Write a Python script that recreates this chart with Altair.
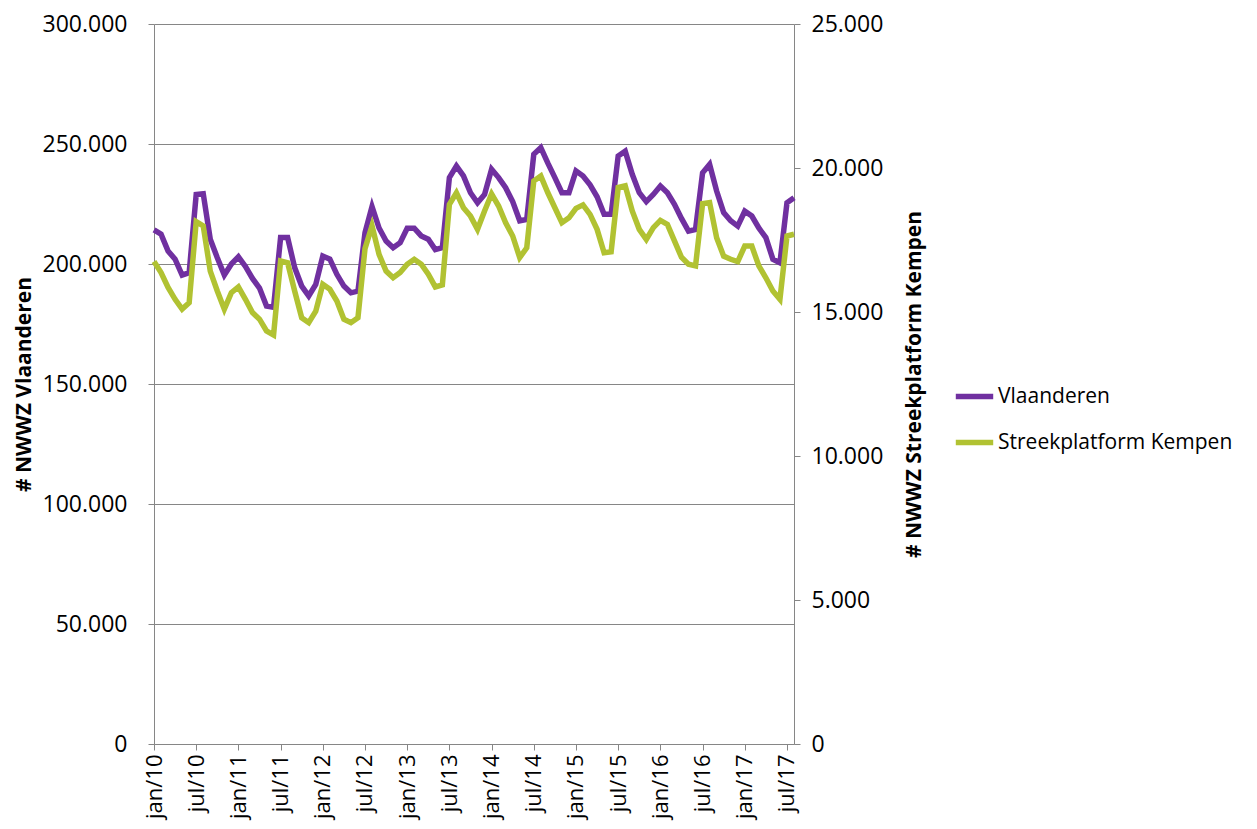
import altair as alt
import pandas as pd

# Monthly values, Jan 2010 .. Aug 2017
vlaanderen = [214200, 212400, 205400, 202000, 195400, 196400, 229000, 229300, 210300, 202600,
              195400, 200000, 203000, 199000, 194000, 190000, 182500, 182000, 211000, 211000,
              198500, 190800, 186700, 191500, 203300, 202000, 195700, 190800, 188000, 188700,
              213000, 223900, 215000, 209600, 206800, 208900, 214900, 214900, 211700, 210300,
              206000, 206800, 236000, 240800, 236700, 229700, 225500, 229000, 239500, 236000,
              231800, 226000, 218000, 218600, 245700, 248500, 242000, 236000, 229700, 229700,
              238800, 236700, 233000, 228000, 220700, 220700, 245000, 247000, 237400, 229700,
              226000, 229000, 232500, 229700, 224900, 219000, 213700, 214400, 238000, 241500,
              230400, 221400, 218000, 215800, 222000, 220000, 215000, 211000, 202000, 200500,
              225500, 227600]
kempen = [16750, 16370, 15850, 15440, 15100, 15320, 18140, 17990, 16420, 15730,
          15100, 15670, 15870, 15440, 14980, 14750, 14340, 14200, 16770, 16710,
          15730, 14800, 14630, 15030, 15960, 15790, 15380, 14750, 14630, 14800,
          17200, 17990, 17000, 16420, 16190, 16370, 16660, 16830, 16660, 16310,
          15870, 15940, 18740, 19140, 18620, 18330, 17870, 18510, 19100, 18680,
          18100, 17640, 16890, 17230, 19550, 19720, 19140, 18620, 18100, 18270,
          18600, 18720, 18390, 17870, 17060, 17090, 19320, 19380, 18510, 17870,
          17520, 17930, 18180, 18040, 17470, 16900, 16660, 16600, 18760, 18800,
          17580, 16940, 16830, 16750, 17290, 17290, 16600, 16190, 15730, 15440,
          17640, 17700]
tick_labels = ["jan/10", "jul/10", "jan/11", "jul/11", "jan/12", "jul/12", "jan/13", "jul/13",
               "jan/14", "jul/14", "jan/15", "jul/15", "jan/16", "jul/16", "jan/17", "jul/17"]
series_names = ["Vlaanderen", "Streekplatform Kempen"]
series_colors = ["#7030A0", "#B1C232"]

FONT = "Open Sans"
df = pd.DataFrame({"m": list(range(len(vlaanderen))), "vl": vlaanderen, "ke": kempen})

label_list = "[" + ",".join("'%s'" % t for t in tick_labels) + "]"
xenc = alt.X("m:Q",
             scale=alt.Scale(domain=[0, len(vlaanderen) - 1], nice=False, zero=False),
             axis=alt.Axis(values=list(range(0, 6 * len(tick_labels), 6)),
                           labelExpr=label_list + "[round(datum.value/6)]",
                           labelAngle=270, labelAlign="right", labelBaseline="middle",
                           labelFontSize=22, labelFont=FONT, labelColor="#000",
                           labelPadding=4, tickSize=6, tickColor="#868686",
                           domainColor="#868686", grid=False, title=None))

color_enc = alt.Color("s:N",
                      scale=alt.Scale(domain=series_names, range=series_colors),
                      legend=alt.Legend(orient="none", legendX=799, legendY=351, title=None,
                                        symbolType="stroke", symbolSize=1400,
                                        symbolStrokeWidth=5.5,
                                        labelFontSize=21, labelFont=FONT, labelColor="#000",
                                        rowPadding=13, labelOffset=2, labelLimit=400))

fmt = "replace(format(datum.value, ','), ',', '.')"

left = alt.Chart(df).transform_calculate(s="'%s'" % series_names[0]).mark_line(
    strokeWidth=5.5).encode(
    x=xenc,
    y=alt.Y("vl:Q", scale=alt.Scale(domain=[0, 300000], nice=False),
            axis=alt.Axis(values=list(range(0, 300001, 50000)), labelExpr=fmt,
                          title="# NWWZ Vlaanderen", titleFontSize=21, titleFont=FONT,
                          titleFontWeight="bold", titleColor="#000",
                          labelFontSize=23, labelFont=FONT, labelColor="#000",
                          labelPadding=21, tickSize=6, tickColor="#868686",
                          domainColor="#868686", gridColor="#868686", grid=True,
                          titlePadding=8)),
    color=color_enc,
)

right = alt.Chart(df).transform_calculate(s="'%s'" % series_names[1]).mark_line(
    strokeWidth=5.5).encode(
    x=xenc,
    y=alt.Y("ke:Q", scale=alt.Scale(domain=[0, 25000], nice=False),
            axis=alt.Axis(orient="right", values=list(range(0, 25001, 5000)), labelExpr=fmt,
                          title="# NWWZ Streekplatform Kempen", titleFontSize=21,
                          titleFont=FONT, titleFontWeight="bold", titleColor="#000",
                          titleAngle=270, titlePadding=42,
                          labelFontSize=23, labelFont=FONT, labelColor="#000",
                          labelPadding=11, tickSize=6, tickColor="#868686",
                          domainColor="#868686", grid=False)),
    color=color_enc,
)

chart = alt.layer(left, right).resolve_scale(y="independent").properties(
    width=640, height=720
).configure_view(stroke=None)

chart.save("out.html", embed_options={"renderer": "svg", "actions": False})
